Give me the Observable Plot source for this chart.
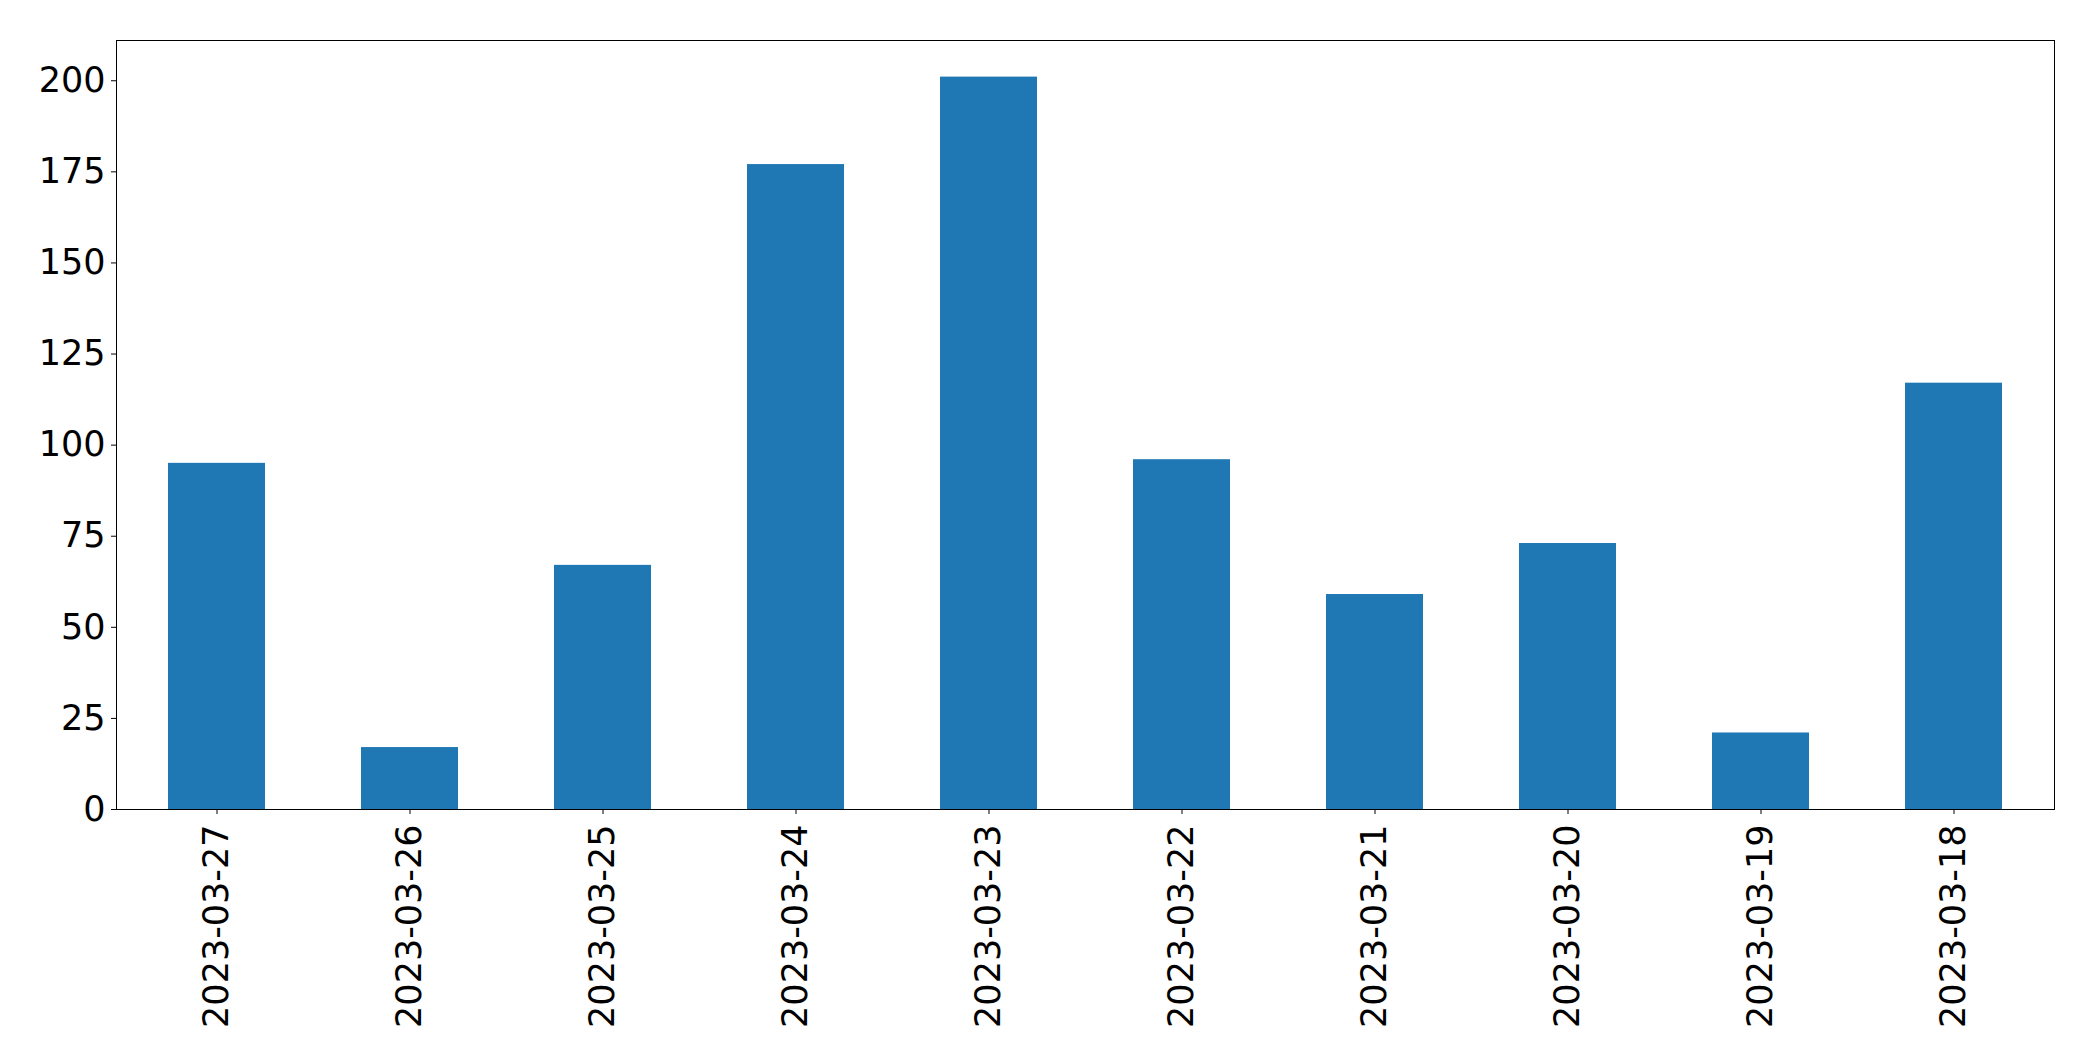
<!DOCTYPE html>
<html><head><meta charset="utf-8">
<script src="https://cdn.jsdelivr.net/npm/d3@7"></script>
<script src="https://cdn.jsdelivr.net/npm/@observablehq/plot@0.6"></script>
<style>body{margin:0;background:#fff}</style>
</head><body><div id="chart"></div>
<script>
const dates = ["2023-03-27","2023-03-26","2023-03-25","2023-03-24","2023-03-23","2023-03-22","2023-03-21","2023-03-20","2023-03-19","2023-03-18"];
const counts = [95,17,67,177,201,96,59,73,21,117];
const yTicks = [0,25,50,75,100,125,150,175,200];
const data = dates.map((d,i)=>({date:d,count:counts[i]}));
const chart = Plot.plot({
  width:2093, height:1061, marginLeft:116, marginRight:39, marginTop:40, marginBottom:252,
  style:{fontFamily:"DejaVu Sans", fontSize:"35px", color:"black", background:"white"},
  x:{domain:dates, paddingInner:0.5, paddingOuter:0.25, label:null},
  y:{domain:[0,211.05], label:null},
  marks:[
    Plot.barY(data,{x:"date",y:"count",fill:"#1f77b4"}),
    Plot.frame({stroke:"black", strokeWidth:1}),
    Plot.axisY({ticks:yTicks, tickSize:5, tickPadding:6, tickFormat:d=>String(d), label:null, strokeWidth:1}),
    Plot.axisX({tickRotate:-90, tickSize:5, tickPadding:10, label:null, strokeWidth:1})
  ]
});
document.getElementById("chart").appendChild(chart);
</script></body></html>
